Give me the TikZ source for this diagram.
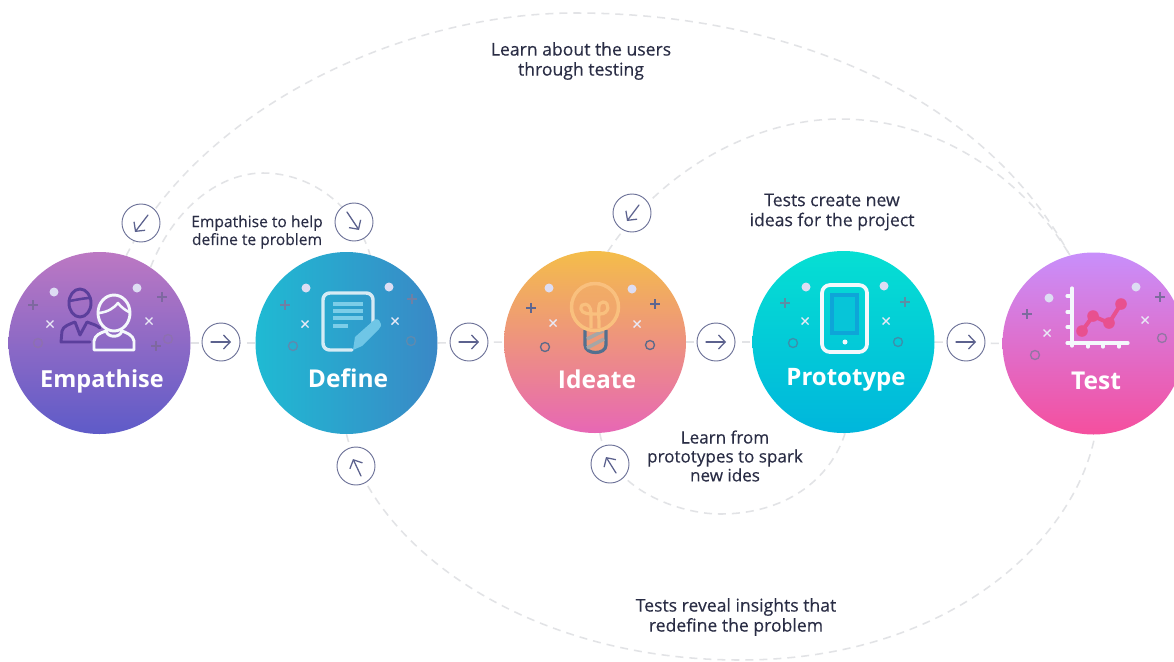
\documentclass[tikz,border=0pt]{standalone}
\usepackage{fontspec}
\setmainfont{Open Sans}
\newfontfamily\notefont[FakeBold=0.25]{Open Sans}
\usetikzlibrary{arrows.meta}
\definecolor{ink}{HTML}{2A2D45}
\definecolor{dashc}{HTML}{E2E3E6}
\definecolor{badgec}{HTML}{6E7399}
\definecolor{arrowc}{HTML}{5C628E}
\definecolor{dotc}{HTML}{DDDDF3}
\definecolor{xc}{HTML}{E9E9F6}
\definecolor{empT}{HTML}{BC78C3}\definecolor{empM}{HTML}{9168C6}\definecolor{empB}{HTML}{5E5BC8}
\definecolor{defL}{HTML}{1FBAD3}\definecolor{defR}{HTML}{3A88C6}
\definecolor{ideT}{HTML}{F4BD4A}\definecolor{ideM}{HTML}{EE9878}\definecolor{ideB}{HTML}{E767B5}
\definecolor{proT}{HTML}{06DFD3}\definecolor{proB}{HTML}{00B6DC}
\definecolor{tesT}{HTML}{C88FFB}\definecolor{tesM}{HTML}{DC74CF}\definecolor{tesB}{HTML}{F54F9E}
\definecolor{empP}{HTML}{7E68A0}\definecolor{empR}{HTML}{8D70B0}
\definecolor{defP}{HTML}{6F80A5}\definecolor{defR2}{HTML}{5E8AAF}
\definecolor{ideP}{HTML}{5D6690}\definecolor{ideR}{HTML}{5B6A8A}
\definecolor{proP}{HTML}{5C8EA5}\definecolor{proR}{HTML}{3D8FAB}
\definecolor{tesP}{HTML}{7D6B9E}\definecolor{tesR}{HTML}{9475A5}
\definecolor{persD}{HTML}{5B3F9C}
\definecolor{iconW}{HTML}{F4F8FC}
\definecolor{sheetL}{HTML}{7CCDE8}
\definecolor{penc}{HTML}{6FC6E6}
\definecolor{bulb}{HTML}{F9C07E}
\definecolor{bulbF}{HTML}{F2AC6C}
\definecolor{bulbB}{HTML}{52708F}
\definecolor{screenO}{HTML}{0EA5D8}
\definecolor{screenI}{HTML}{07C5D8}
\definecolor{chartL}{HTML}{E8508F}
\tikzset{
  x=0.75pt,y=-0.75pt,
  stage/.style={circle,inner sep=0pt,minimum size=136.5pt},
  stagename/.style={text=white,font=\fontsize{18.4pt}{20pt}\selectfont\bfseries,inner sep=0pt,anchor=center},
  note/.style={text=ink,align=center,inner sep=0pt,font=\notefont\fontsize{13.2pt}{15pt}\selectfont},
  smallnote/.style={text=ink,align=center,inner sep=0pt,font=\notefont\fontsize{11.7pt}{13.4pt}\selectfont},
  dashline/.style={draw=dashc,line width=1.15pt,dash pattern=on 6pt off 4.5pt},
  badge/.style={circle,draw=badgec,line width=0.7pt,fill=white,minimum size=28.5pt,inner sep=0pt},
  barb/.style={draw=arrowc,line width=0.95pt,line cap=round,-{Straight Barb[length=5pt,width=10.5pt,line width=0.95pt]}},
  icon/.style={line width=2.2pt,line cap=round,line join=round},
}
\newcommand\decDot[2]{\fill[dotc] (#1,#2) circle[radius=4.5];}
\newcommand\decPlus[3]{\draw[#3,line width=2pt] (#1,#2) ++(-5,0) -- ++(10,0) (#1,#2) ++(0,-5) -- ++(0,10);}
\newcommand\decX[2]{\draw[xc,line width=1.05pt] (#1,#2) ++(-3.5,-3.5) -- ++(7,7) (#1,#2) ++(3.5,-3.5) -- ++(-7,7);}
\newcommand\decRing[3]{\draw[#3,line width=1pt] (#1,#2) circle[radius=4.5];}
\begin{document}
\begin{tikzpicture}
\useasboundingbox (0,0) rectangle (1174,661);
\clip (0,0) rectangle (1174,661);
\fill[white] (0,0) rectangle (1174,661);

% stages
\node[stage,top color=empT,middle color=empM,bottom color=empB] (emp) at (99.5,343) {};
\node[stage,left color=defL,right color=defR] (def) at (346.5,343) {};
\node[stage,top color=ideT,middle color=ideM,bottom color=ideB] (ide) at (595,342) {};
\node[stage,top color=proT,bottom color=proB] (pro) at (843.5,342) {};
\node[stage,top color=tesT,middle color=tesM,bottom color=tesB] (tes) at (1093.5,343.5) {};

% loops
\coordinate (topa) at (575,13);
\coordinate (topb) at (263,173);
\coordinate (topc) at (840,119);
\coordinate (lowa) at (720,514);
\coordinate (lowb) at (740,660);
\draw[dashline] (emp.73) .. controls (200,110) and (400,13) .. (topa) .. controls (780,13) and (980,90) .. (tes.105.5);
\draw[dashline] (emp.56) .. controls (175,205) and (222,173) .. (topb) .. controls (310,173) and (355,205) .. (def.75);
\draw[dashline] (ide.82) .. controls (665,165) and (760,119) .. (topc) .. controls (940,119) and (1025,180) .. (tes.105.5);
\draw[dashline] (ide.273) .. controls (610,490) and (680,514) .. (lowa) .. controls (785,514) and (830,480) .. (pro.271);
\draw[dashline] (def.270) .. controls (375,550) and (530,660) .. (lowb) .. controls (950,660) and (1075,540) .. (tes.271);
\draw[dashline] (emp.east) -- (def.west);
\draw[dashline] (def.east) -- (ide.west);
\draw[dashline] (ide.east) -- (pro.west);
\draw[dashline] (pro.east) -- (tes.west);

% badges
\node[badge] (b1) at (141,223) {};
\node[badge] (b2) at (354,222) {};
\node[badge] (b3) at (632,213) {};
\node[badge] (b4) at (356,466) {};
\node[badge] (b5) at (610,464) {};
\node[badge] (h1) at (221,342) {};
\node[badge] (h2) at (469,342) {};
\node[badge] (h3) at (716,342) {};
\node[badge] (h4) at (966,342) {};
\draw[barb] ([shift={(7,-8)}]b1.center) -- ([shift={(-6,9)}]b1.center);
\draw[barb] ([shift={(-7,-10)}]b2.center) -- ([shift={(5,8)}]b2.center);
\draw[barb] ([shift={(7,-8)}]b3.center) -- ([shift={(-5,8)}]b3.center);
\draw[barb] ([shift={(5,10)}]b4.center) -- ([shift={(-3,-7)}]b4.center);
\draw[barb] ([shift={(6,9)}]b5.center) -- ([shift={(-4,-7)}]b5.center);
\foreach \h in {h1,h2,h3,h4}{\draw[barb] ([xshift=-7.5pt]\h.center) -- ([xshift=7.5pt]\h.center);}

% Empathise decor
\decDot{54}{292}\decDot{137}{288}
\decPlus{33}{305}{empP}\decPlus{162}{297}{empP}\decPlus{156}{346}{empP}
\decX{50}{324}\decX{149}{321}
\decRing{38}{343}{empR}\decRing{168}{339}{empR}
\draw[icon,persD] (80,303) ellipse[x radius=11,y radius=14];
\draw[icon,persD,line width=1.9pt] (69,301) .. controls (76,300) and (84,298) .. (90,298);
\draw[icon,persD] (90,342) -- (61,342) -- (62,331) .. controls (63,326) and (70,324) .. (75,322) -- (80,335) -- (87,322) .. controls (92,324) and (97,325) .. (100,328);
\draw[icon,iconW] (114,313) ellipse[x radius=16,y radius=18];
\draw[icon,iconW,line width=1.9pt] (99,313) .. controls (108,312) and (114,308) .. (118,303) .. controls (121,307) and (125,310) .. (129,312);
\draw[icon,iconW] (94,350) -- (134,350) -- (134,341) .. controls (133,335) and (127,333) .. (122,331) .. controls (120,338) and (108,338) .. (106,331) .. controls (100,333) and (95,335) .. (94,341) -- cycle;

% Define decor
\decDot{306}{288}\decDot{389}{287}
\decPlus{285}{305}{defP}\decPlus{412}{299}{defP}
\decX{305}{324}\decX{395}{321}
\decRing{293}{346}{defR2}\decRing{411}{341}{defR2}
\draw[icon,iconW,opacity=.85,line width=2.6pt,rounded corners=5pt] (352,350) -- (323,350) -- (323,293) -- (373,293) -- (373,325);
\draw[sheetL,line width=2.6pt] (333,304) -- (363,304) (333,311) -- (363,311) (333,318) -- (363,318) (333,326) -- (348,326);
\fill[penc] (353,350) -- (355,337) -- (373,321) .. controls (376,318) and (379,319) .. (380,322) .. controls (382,325) and (381,327) .. (379,329) -- (362,346) -- cycle;

% Ideate decor
\decDot{549}{288}\decDot{632}{289}
\decPlus{531}{308}{ideP}\decPlus{655}{304}{ideP}
\decX{553}{323}\decX{637}{324}
\decRing{545}{347}{ideR}\decRing{650}{345}{ideR}
\draw[bulbB,line width=2.4pt,fill=ideM] (585,330) -- (585,345) .. controls (585,355) and (606,355) .. (606,345) -- (606,330);
\draw[line width=2.6pt,color=gray!70] (587,339) -- (603,331) (587,348) -- (604,339);
\draw[bulb,line width=2.6pt,fill=bulbF,fill opacity=.55] (595,307) circle[radius=23.5];
\draw[bulb,line width=2.4pt] (591,328) -- (591,313) .. controls (591,302) and (580,302) .. (581,309) .. controls (582,314) and (588,314) .. (600,314) .. controls (610,314) and (610,302) .. (603,302) .. controls (597,302) and (599,310) .. (599,328);

% Prototype decor
\decDot{806}{287}\decDot{884}{286}
\decPlus{785}{303}{proP}\decPlus{905}{302}{proP}
\decX{805}{321}\decX{886}{321}
\decRing{793}{343}{proR}\decRing{898}{342}{proR}
\draw[iconW,line width=2.8pt,rounded corners=6pt] (822,285) rectangle (867,352);
\draw[screenO,line width=2.6pt,fill=screenI] (832,295) rectangle (857,333);
\fill[iconW] (845,342) circle[radius=2.5];

% Test decor
\decDot{1049}{298}\decDot{1136}{287}
\decPlus{1027}{314}{tesP}\decPlus{1160}{297}{tesP}
\decX{1047}{333}\decX{1145}{320}
\decRing{1035}{355}{tesR}\decRing{1162}{338}{tesR}
\draw[iconW,line width=2.4pt,line cap=round] (1072,288) -- (1072,346) (1067,343) -- (1128,343) (1067,296) -- (1072,296) (1067,312) -- (1072,312) (1067,327) -- (1072,327) (1088,343) -- (1088,347) (1103,343) -- (1103,347) (1119,343) -- (1119,347);
\draw[chartL,line width=3pt,line join=round] (1082,331) -- (1093,316) -- (1109,323) -- (1121,304);
\fill[chartL] (1082,331) circle[radius=5.8] (1093,316) circle[radius=5.8] (1109,323) circle[radius=5.8] (1121,304) circle[radius=5.8];

% stage names
\node[stagename,font=\fontsize{17.6pt}{20pt}\selectfont\bfseries] (n1) at (102,381) {Empathise};
\node[stagename] (n2) at (348,378) {Define};
\node[stagename] (n3) at (597,379) {Ideate};
\node[stagename,font=\fontsize{18pt}{20pt}\selectfont\bfseries] (n4) at (846,380) {Prototype};
\node[stagename] (n5) at (1096,381) {Test};

% notes
\node[note] (t1) at (581,61) {Learn about the users\\through testing};
\node[smallnote] (t2) at (257,232) {Empathise to help\\define te problem};
\node[note] (t3) at (832,212) {Tests create new\\ideas for the project};
\node[note,font=\notefont\fontsize{12.8pt}{14.2pt}\selectfont] (t4) at (725,456) {Learn from\\prototypes to spark\\new ides};
\node[note] (t5) at (736,617) {Tests reveal insights that\\redefine the problem};
\end{tikzpicture}
\end{document}
